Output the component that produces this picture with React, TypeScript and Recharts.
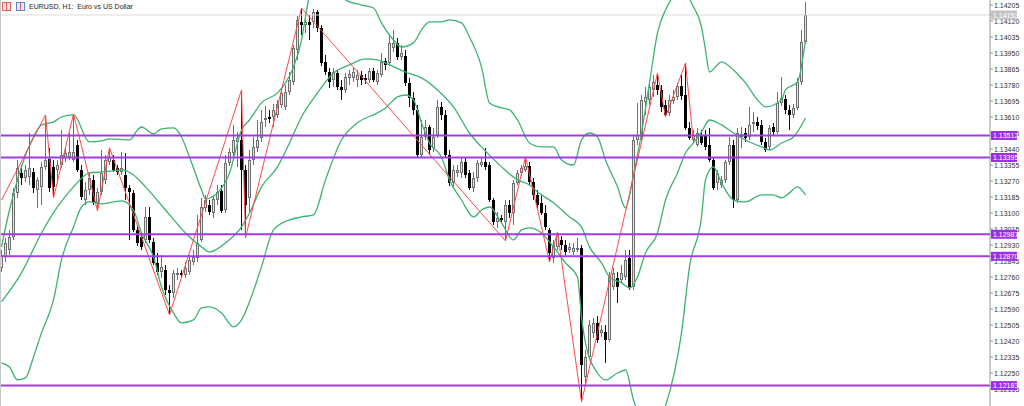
import { ComposedChart, Bar, Line, XAxis, YAxis, ReferenceLine } from 'recharts'

// EURUSD H1 candles, oldest first
const opens = [
  1.12808, 1.12867, 1.12904, 1.12973, 1.13207, 1.13313, 1.13286, 1.13292, 1.13318, 1.13223,
  1.13239, 1.13345, 1.13387, 1.13345, 1.13329, 1.13355, 1.13393, 1.13398, 1.13382, 1.13462,
  1.13329, 1.13169, 1.13223, 1.13276, 1.13154, 1.13212, 1.13276, 1.13371, 1.13382, 1.13339,
  1.13318, 1.13302, 1.13233, 1.13207, 1.1301, 1.12973, 1.12957, 1.13079, 1.12946, 1.12835,
  1.12787, 1.12798, 1.12691, 1.12675, 1.12771, 1.12782, 1.12771, 1.12787, 1.1284, 1.12861,
  1.12957, 1.13127, 1.13143, 1.131, 1.13169, 1.13217, 1.13116, 1.13366, 1.13419, 1.13478,
  1.13488, 1.13329, 1.1318, 1.13382, 1.13446, 1.13499, 1.13594, 1.1361, 1.1361, 1.13621,
  1.13674, 1.13664, 1.13743, 1.13796, 1.13966, 1.14115, 1.14099, 1.14115, 1.14115, 1.14168,
  1.14083, 1.13903, 1.13849, 1.13807, 1.13844, 1.1377, 1.13754, 1.13818, 1.13818, 1.13807,
  1.13834, 1.13818, 1.13807, 1.13855, 1.13796, 1.13834, 1.13908, 1.13897, 1.13977, 1.14004,
  1.13929, 1.13934, 1.13791, 1.13711, 1.13648, 1.13409, 1.13504, 1.13557, 1.13446, 1.13515,
  1.13664, 1.13621, 1.13409, 1.1326, 1.13313, 1.13313, 1.13371, 1.13313, 1.13233, 1.13286,
  1.13355, 1.13371, 1.13355, 1.13169, 1.13053, 1.13074, 1.13053, 1.13143, 1.131, 1.1326,
  1.13313, 1.13329, 1.1335, 1.13265, 1.13196, 1.13154, 1.131, 1.1301, 1.12861, 1.1292,
  1.12957, 1.1293, 1.12904, 1.12893, 1.12904, 1.12914, 1.12229, 1.12335, 1.12463, 1.12516,
  1.12463, 1.12468, 1.12426, 1.12707, 1.12755, 1.12744, 1.1276, 1.12861, 1.12707, 1.13488,
  1.13504, 1.1369, 1.13701, 1.13754, 1.1378, 1.13754, 1.13674, 1.13632, 1.13695, 1.13717,
  1.13775, 1.13727, 1.13552, 1.13488, 1.13462, 1.13515, 1.13515, 1.13462, 1.13382, 1.1326,
  1.13249, 1.13276, 1.13371, 1.13462, 1.13169, 1.13504, 1.13525, 1.13504, 1.13573, 1.13584,
  1.13568, 1.13478, 1.13451, 1.13557, 1.13531, 1.13685, 1.13706, 1.13648, 1.13621, 1.13658,
  1.13796, 1.14009,
]
const highs = [
  1.12904, 1.12968, 1.1301, 1.13233, 1.13382, 1.13355, 1.13355, 1.13525, 1.13339, 1.13292,
  1.13371, 1.13621, 1.13446, 1.13382, 1.13382, 1.13541, 1.13446, 1.13525, 1.13626, 1.13488,
  1.13355, 1.13265, 1.13318, 1.13302, 1.13233, 1.13435, 1.13409, 1.13446, 1.13409, 1.13355,
  1.13424, 1.13419, 1.13249, 1.13223, 1.13037, 1.12999, 1.13132, 1.13132, 1.12968, 1.12888,
  1.12877, 1.12824, 1.12718, 1.12798, 1.12808, 1.12798, 1.1284, 1.12877, 1.12904, 1.1309,
  1.1318, 1.13196, 1.13169, 1.13196, 1.13249, 1.13249, 1.13409, 1.13446, 1.13568, 1.13531,
  1.13754, 1.13355, 1.13435, 1.13504, 1.13594, 1.13648, 1.13669, 1.13648, 1.13679, 1.13701,
  1.13764, 1.1378, 1.13849, 1.13993, 1.14147, 1.14189, 1.14136, 1.14152, 1.14184, 1.14179,
  1.14099, 1.1394, 1.13871, 1.13871, 1.1386, 1.13807, 1.13844, 1.1386, 1.13871, 1.1386,
  1.13855, 1.13839, 1.13871, 1.13871, 1.1386, 1.1395, 1.13924, 1.14046, 1.14073, 1.1403,
  1.13993, 1.13966, 1.13818, 1.13743, 1.13674, 1.13594, 1.13594, 1.13568, 1.13552, 1.13701,
  1.1369, 1.13648, 1.13435, 1.13355, 1.13355, 1.13393, 1.13393, 1.13329, 1.13318, 1.13382,
  1.13393, 1.13446, 1.13371, 1.1318, 1.13106, 1.1309, 1.13169, 1.13169, 1.13276, 1.13329,
  1.13355, 1.13398, 1.13371, 1.13286, 1.13223, 1.13196, 1.13143, 1.13021, 1.12957, 1.12999,
  1.12978, 1.12957, 1.12941, 1.12941, 1.12968, 1.1293, 1.12373, 1.12532, 1.12543, 1.12553,
  1.12505, 1.12505, 1.12787, 1.12808, 1.12787, 1.12824, 1.12904, 1.12904, 1.13509, 1.13685,
  1.13727, 1.1377, 1.13807, 1.13834, 1.13844, 1.1378, 1.13701, 1.13727, 1.13754, 1.13791,
  1.13834, 1.13897, 1.13584, 1.13541, 1.13552, 1.13541, 1.13541, 1.13552, 1.13398, 1.13329,
  1.13297, 1.13382, 1.13504, 1.13488, 1.13552, 1.13557, 1.13552, 1.13664, 1.13637, 1.1361,
  1.13594, 1.13499, 1.13568, 1.13579, 1.13743, 1.13823, 1.13727, 1.13674, 1.13679, 1.13818,
  1.14073, 1.14221,
]
const lows = [
  1.12787, 1.1284, 1.12877, 1.12957, 1.1318, 1.13249, 1.13265, 1.13249, 1.13207, 1.13127,
  1.13143, 1.13329, 1.13212, 1.1318, 1.1326, 1.13339, 1.13371, 1.13382, 1.13371, 1.13318,
  1.13169, 1.13143, 1.13196, 1.13143, 1.13111, 1.13196, 1.13254, 1.13355, 1.13318, 1.13302,
  1.13302, 1.13169, 1.12957, 1.12999, 1.12925, 1.12904, 1.12941, 1.12941, 1.12824, 1.12771,
  1.12755, 1.12665, 1.12559, 1.12649, 1.12744, 1.12755, 1.12755, 1.12771, 1.12824, 1.1284,
  1.12946, 1.13106, 1.1309, 1.13074, 1.13143, 1.131, 1.131, 1.1335, 1.13403, 1.13345,
  1.1301, 1.12968, 1.13106, 1.13355, 1.13424, 1.13478, 1.13557, 1.13579, 1.13557, 1.13605,
  1.13658, 1.13648, 1.13727, 1.1378, 1.13913, 1.14046, 1.14057, 1.14019, 1.14083, 1.14062,
  1.13881, 1.13834, 1.13764, 1.1377, 1.13754, 1.13701, 1.13738, 1.1378, 1.13796, 1.1377,
  1.1378, 1.13786, 1.13791, 1.13796, 1.1378, 1.13823, 1.1386, 1.13881, 1.13956, 1.13913,
  1.13913, 1.13775, 1.13664, 1.13621, 1.13393, 1.13393, 1.13488, 1.13409, 1.13424, 1.13499,
  1.13594, 1.13393, 1.13244, 1.13239, 1.13292, 1.13286, 1.13286, 1.13223, 1.13212, 1.13265,
  1.13345, 1.13329, 1.13159, 1.13037, 1.13021, 1.13047, 1.12952, 1.13074, 1.13037, 1.13249,
  1.13297, 1.13318, 1.13249, 1.13169, 1.13116, 1.1309, 1.1301, 1.1284, 1.12835, 1.12904,
  1.12904, 1.12877, 1.12888, 1.12877, 1.12893, 1.12096, 1.12187, 1.12319, 1.12436, 1.1241,
  1.12442, 1.12304, 1.12415, 1.12691, 1.12622, 1.12729, 1.12744, 1.12691, 1.12691, 1.13462,
  1.13488, 1.13621, 1.13674, 1.13717, 1.13727, 1.13637, 1.1361, 1.13616, 1.13679, 1.13701,
  1.13701, 1.13541, 1.13488, 1.13472, 1.13451, 1.13462, 1.13435, 1.13371, 1.13223, 1.13223,
  1.13233, 1.1326, 1.13355, 1.13127, 1.13154, 1.13446, 1.13478, 1.13488, 1.13531, 1.13541,
  1.13462, 1.13424, 1.13435, 1.13515, 1.1352, 1.13669, 1.13626, 1.13541, 1.13605, 1.13648,
  1.1378, 1.13998,
]
const closes = [
  1.12877, 1.12941, 1.12973, 1.13207, 1.13339, 1.13286, 1.13329, 1.13339, 1.13233, 1.13276,
  1.13345, 1.13382, 1.13233, 1.13239, 1.13355, 1.13409, 1.13419, 1.13424, 1.13424, 1.13329,
  1.13185, 1.13223, 1.13286, 1.13154, 1.13212, 1.13313, 1.13382, 1.13398, 1.13329, 1.13318,
  1.13339, 1.13233, 1.13212, 1.1301, 1.12941, 1.1292, 1.13079, 1.12957, 1.12835, 1.12787,
  1.12814, 1.12691, 1.12675, 1.12782, 1.12782, 1.12771, 1.12808, 1.12851, 1.12867, 1.12941,
  1.13132, 1.13169, 1.13106, 1.13175, 1.13212, 1.13111, 1.13366, 1.13424, 1.13488, 1.13499,
  1.13329, 1.13143, 1.13382, 1.13451, 1.13488, 1.13584, 1.13605, 1.136, 1.13648, 1.13679,
  1.13738, 1.13743, 1.13807, 1.13977, 1.14126, 1.14099, 1.14115, 1.14099, 1.14168, 1.14083,
  1.13897, 1.13849, 1.13796, 1.13849, 1.1377, 1.13754, 1.13823, 1.13839, 1.13849, 1.13834,
  1.13807, 1.13807, 1.13855, 1.13807, 1.13844, 1.13903, 1.13887, 1.14004, 1.14004, 1.13929,
  1.1395, 1.13791, 1.13711, 1.13648, 1.13409, 1.13504, 1.13557, 1.13435, 1.13504, 1.13664,
  1.13621, 1.13409, 1.1326, 1.13329, 1.13329, 1.13371, 1.13302, 1.13233, 1.13286, 1.13366,
  1.13371, 1.13345, 1.13169, 1.13053, 1.13074, 1.13063, 1.13143, 1.131, 1.1326, 1.13313,
  1.13339, 1.1335, 1.13265, 1.13196, 1.13143, 1.131, 1.13026, 1.12888, 1.1293, 1.12984,
  1.1293, 1.12893, 1.1292, 1.12914, 1.12914, 1.12293, 1.12335, 1.12505, 1.12516, 1.12426,
  1.12479, 1.12426, 1.1276, 1.12782, 1.12707, 1.12782, 1.12851, 1.12707, 1.13488, 1.13515,
  1.13701, 1.13717, 1.1377, 1.13796, 1.13754, 1.13664, 1.13621, 1.13701, 1.13717, 1.13775,
  1.13722, 1.13552, 1.13499, 1.13515, 1.13525, 1.13472, 1.13451, 1.13382, 1.13233, 1.13313,
  1.13276, 1.13371, 1.13462, 1.13169, 1.13525, 1.1352, 1.13499, 1.13568, 1.13584, 1.13563,
  1.13478, 1.13435, 1.13552, 1.13531, 1.13685, 1.13711, 1.13648, 1.13621, 1.13658, 1.13796,
  1.14009, 1.14152,
]

// ZigZag vertices [bar index, price]
const zigzag = [
  [0, 1.13169], [11, 1.13621], [13, 1.1318], [18, 1.13626], [24, 1.13111], [27, 1.13446],
  [42, 1.12559], [60, 1.13754], [61, 1.12968], [75, 1.14189], [126, 1.12952], [131, 1.13398],
  [137, 1.1284], [139, 1.12999], [145, 1.12096], [164, 1.13844], [166, 1.1361], [171, 1.13897],
  [173, 1.13472],
]

// Bollinger bands [bar index, price]
const upperBand = [
  [0, 1.1292], [2, 1.13116], [5, 1.13345], [8, 1.13504], [10, 1.13568], [13, 1.13584], [15, 1.1361],
  [18, 1.13621], [22, 1.13478], [25, 1.13483], [27, 1.13494], [32, 1.13488], [34, 1.13541], [35, 1.13557],
  [38, 1.1352], [40, 1.13547], [43, 1.13552], [45, 1.13504], [47, 1.13398], [50, 1.13223], [51, 1.13175],
  [54, 1.13207], [57, 1.13313], [60, 1.13541], [62, 1.13594], [65, 1.13685], [69, 1.13738], [71, 1.13791],
  [73, 1.13876], [75, 1.14019], [76, 1.14142], [77, 1.14259], [79, 1.14365], [82, 1.14418], [85, 1.14296],
  [86, 1.14232], [90, 1.14205], [93, 1.14189], [95, 1.1411], [98, 1.14019], [100, 1.13982], [103, 1.14004],
  [105, 1.14073], [107, 1.14115], [110, 1.14115], [112, 1.14126], [115, 1.1411], [117, 1.14035], [120, 1.13876],
  [122, 1.13685], [125, 1.13658], [127, 1.13648], [129, 1.13594], [132, 1.13472], [135, 1.13451], [138, 1.13451],
  [140, 1.13382], [143, 1.13355], [145, 1.13488], [147, 1.13525], [149, 1.13504], [151, 1.13382], [154, 1.13239],
  [156, 1.13127], [158, 1.13302], [160, 1.13525], [162, 1.13791], [164, 1.14057], [166, 1.14179], [169, 1.14259],
  [171, 1.14259], [173, 1.14195], [175, 1.14089], [176, 1.13966], [177, 1.13849], [180, 1.13903], [183, 1.1386],
  [186, 1.13791], [189, 1.13701], [191, 1.13664], [195, 1.13701], [196, 1.13754], [199, 1.13796], [201, 1.14019],
]
const middleBand = [
  [0, 1.12628], [5, 1.12782], [10, 1.12994], [14, 1.13132], [18, 1.13239], [22, 1.13313], [25, 1.13318],
  [28, 1.13324], [30, 1.13329], [33, 1.13302], [36, 1.13239], [41, 1.13116], [46, 1.12994], [50, 1.1292],
  [52, 1.12893], [56, 1.12941], [60, 1.13026], [62, 1.131], [65, 1.13239], [69, 1.13345], [72, 1.13472],
  [75, 1.1361], [79, 1.13738], [83, 1.13844], [87, 1.13887], [91, 1.13919], [94, 1.13913], [97, 1.13887],
  [101, 1.13849], [105, 1.13818], [109, 1.13754], [113, 1.13664], [117, 1.13525], [120, 1.13451], [125, 1.13345],
  [129, 1.13276], [132, 1.13249], [134, 1.13212], [138, 1.13154], [142, 1.13079], [145, 1.13026], [147, 1.1292],
  [150, 1.12835], [152, 1.1276], [155, 1.12729], [157, 1.12702], [159, 1.1276], [161, 1.12888], [164, 1.12994],
  [166, 1.13169], [169, 1.13313], [171, 1.13419], [173, 1.13472], [175, 1.13531], [177, 1.13594], [180, 1.13568],
  [183, 1.13525], [186, 1.13488], [190, 1.13451], [192, 1.13435], [195, 1.13472], [198, 1.13504], [201, 1.13605],
]
const lowerBand = [
  [0, 1.12304], [2, 1.12282], [4, 1.12213], [6, 1.12224], [8, 1.12335], [10, 1.12463], [13, 1.12638],
  [15, 1.12851], [18, 1.13026], [20, 1.13132], [22, 1.13159], [25, 1.13148], [28, 1.13159], [30, 1.13164],
  [33, 1.13116], [35, 1.12994], [38, 1.12867], [40, 1.12707], [43, 1.12569], [45, 1.12516], [48, 1.12532],
  [50, 1.12596], [52, 1.12601], [55, 1.12569], [58, 1.12495], [60, 1.12532], [62, 1.12628], [65, 1.12814],
  [68, 1.1301], [72, 1.13063], [75, 1.13079], [78, 1.1309], [81, 1.13276], [85, 1.13488], [89, 1.13579],
  [94, 1.13632], [96, 1.13658], [99, 1.13717], [101, 1.13727], [103, 1.13701], [105, 1.13579], [107, 1.13472],
  [110, 1.13398], [112, 1.13276], [115, 1.13169], [118, 1.13079], [120, 1.13116], [122, 1.13132], [125, 1.13047],
  [128, 1.12957], [130, 1.1301], [132, 1.13021], [135, 1.12994], [138, 1.1292], [141, 1.12835], [144, 1.1276],
  [145, 1.12548], [146, 1.1241], [149, 1.1225], [151, 1.12213], [154, 1.1225], [156, 1.12266], [158, 1.12107],
  [160, 1.12001], [163, 1.11948], [166, 1.12075], [170, 1.12463], [172, 1.12814], [175, 1.13079], [176, 1.13276],
  [178, 1.13345], [180, 1.1326], [183, 1.13169], [186, 1.13159], [190, 1.13196], [193, 1.13196], [195, 1.1318],
  [197, 1.13207], [199, 1.13239], [201, 1.13196],
]

const levels = [1.13512, 1.13395, 1.12987, 1.1287, 1.12183]
const bidPrice = 1.14152
const priceTicks = [
  1.12165, 1.1225, 1.12335, 1.1242, 1.12505, 1.1259, 1.12675, 1.1276, 1.12845, 1.1293,
  1.13015, 1.131, 1.13185, 1.1327, 1.13355, 1.1344, 1.13525, 1.1361, 1.13695, 1.1378,
  1.13865, 1.1395, 1.14035, 1.1412, 1.14205,
]

const candles = opens.map((o, i) => ({
  i,
  o,
  h: highs[i],
  l: lows[i],
  c: closes[i],
  range: [lows[i], highs[i]],
}))
const toPoints = (pairs: number[][]) => pairs.map(([i, v]) => ({ i, v }))

// plain ticks first, then the price tags so the tags sit on top
const axisTicks = [...priceTicks, bidPrice, ...levels]

const FONT = '"Liberation Sans", Arial, sans-serif'
const GREEN = '#3cb371'
const PURPLE = '#a03ce2'

function Candle(props: any) {
  const { x, y, width, height, payload } = props
  if (!payload || height == null) return null
  const { o, h, l, c } = payload
  const span = h - l || 1
  const toY = (v: number) => y + ((h - v) / span) * height
  const cx = Math.floor(x + width / 2)
  const top = Math.round(Math.min(toY(o), toY(c)))
  const bot = Math.max(Math.round(Math.max(toY(o), toY(c))), top + 1)
  const up = c >= o
  const wick = up ? '#6f6f6f' : '#111'
  return (
    <g>
      <line x1={cx + 0.5} x2={cx + 0.5} y1={Math.round(y)} y2={Math.round(y + height)} stroke={wick} strokeWidth={1} />
      {up ? (
        bot - top >= 2 ? (
          <rect x={cx - 0.5} y={top + 0.5} width={2} height={bot - top - 1} fill="#e2e2e2" stroke="#6f6f6f" strokeWidth={1} />
        ) : (
          <rect x={cx - 1} y={top} width={3} height={1} fill="#6f6f6f" />
        )
      ) : (
        <rect x={cx - 1} y={top} width={3} height={bot - top} fill="#000" />
      )}
    </g>
  )
}

function PriceTick(props: any) {
  const { x, y, payload } = props
  const v: number = payload.value
  const label = v.toFixed(5)
  const tagFill = levels.includes(v) ? '#9b2fe3' : v === bidPrice ? '#c3c3c3' : null
  if (tagFill) {
    return (
      <g>
        <rect x={x - 3} y={y - 4.5} width={26} height={9} fill={tagFill} />
        <text x={x - 1} y={y + 2.6} fontSize={7} fontFamily={FONT} fill="#ffffff">
          {label}
        </text>
      </g>
    )
  }
  return (
    <text x={x} y={y + 2.5} fontSize={7} fontFamily={FONT} fill="#333">
      {label}
    </text>
  )
}

export default function App() {
  return (
    <div style={{ position: 'absolute', left: 0, top: 0, width: 1024, height: 406, background: '#fff' }}>
      <ComposedChart width={1024} height={406} data={candles} margin={{ top: 0, right: 0, bottom: 0, left: 0 }}>
        <XAxis dataKey="i" type="number" domain={[-0.375, 247.125]} hide allowDataOverflow />
        <YAxis
          orientation="right"
          width={34}
          domain={[1.120747, 1.142316]}
          allowDataOverflow
          ticks={axisTicks}
          interval={0}
          tick={<PriceTick />}
          tickSize={3}
          tickMargin={1}
          tickLine={{ stroke: '#8a8a8a' }}
          axisLine={{ stroke: '#9a9a9a' }}
        />
        <ReferenceLine y={bidPrice} stroke="#dcdcdc" strokeWidth={1} />
        <Bar dataKey="range" barSize={4} shape={<Candle />} isAnimationActive={false} />
        <Line data={toPoints(upperBand)} dataKey="v" type="monotone" stroke={GREEN} strokeWidth={1.3} dot={false} isAnimationActive={false} />
        <Line data={toPoints(middleBand)} dataKey="v" type="monotone" stroke={GREEN} strokeWidth={1.3} dot={false} isAnimationActive={false} />
        <Line data={toPoints(lowerBand)} dataKey="v" type="monotone" stroke={GREEN} strokeWidth={1.3} dot={false} isAnimationActive={false} />
        <Line data={toPoints(zigzag)} dataKey="v" type="linear" stroke="#ff4a4a" strokeWidth={1} dot={false} isAnimationActive={false} />
        {levels.map((lv) => (
          <ReferenceLine key={lv} y={lv} stroke={PURPLE} strokeWidth={2} />
        ))}
      </ComposedChart>
      <div style={{ position: 'absolute', left: 0, top: 0, width: 1, height: 406, background: '#c8c8c8' }} />
      <svg style={{ position: 'absolute', left: 1, top: 2 }} width={26} height={9}>
        <rect x={1.5} y={0.5} width={8} height={8} fill="#fbe3e3" stroke="#e06060" />
        <line x1={5.5} x2={5.5} y1={1} y2={8} stroke="#e06060" />
        <rect x={15.5} y={0.5} width={8} height={8} fill="#e3ecfb" stroke="#5a86d0" />
        <line x1={19.5} x2={19.5} y1={1} y2={8} stroke="#e06060" />
      </svg>
      <div
        style={{
          position: 'absolute',
          left: 29,
          top: 2,
          fontFamily: FONT,
          fontSize: 7,
          lineHeight: '9px',
          color: '#222',
          whiteSpace: 'pre',
        }}
      >
        {'EURUSD, H1:  Euro vs US Dollar'}
      </div>
    </div>
  )
}
